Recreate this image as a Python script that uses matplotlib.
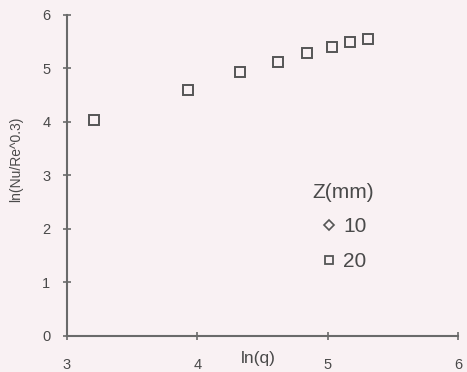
import matplotlib
matplotlib.use("Agg")
import matplotlib.pyplot as plt
from matplotlib.lines import Line2D

# Data
z_labels = ["10", "20"]
x_z10 = []
y_z10 = []
x_z20 = [3.21, 3.93, 4.33, 4.62, 4.84, 5.03, 5.17, 5.31]
y_z20 = [4.04, 4.60, 4.93, 5.12, 5.29, 5.40, 5.50, 5.55]
xticks = [3, 4, 5, 6]
yticks = [0, 1, 2, 3, 4, 5, 6]

plt.rcParams['font.family'] = ['Liberation Sans', 'DejaVu Sans']
bg = '#f9f1f3'
axc = '#6a6a6a'
txc = '#4a4a4a'

fig = plt.figure(figsize=(4.67, 3.72), dpi=100, facecolor=bg)
ax = fig.add_axes([0.1435, 0.097, 0.8375, 0.863])
ax.set_facecolor(bg)

ax.plot(x_z10, y_z10, linestyle='none', marker='D', markersize=5,
        markerfacecolor='none', markeredgecolor='#555555', markeredgewidth=1.2)
ax.plot(x_z20, y_z20, linestyle='none', marker='s', markersize=7,
        markerfacecolor='none', markeredgecolor='#555555', markeredgewidth=1.4)

ax.set_xlim(3, 6)
ax.set_ylim(0, 6)
ax.set_xticks(xticks)
ax.set_yticks(yticks)
for s in ['top', 'right']:
    ax.spines[s].set_visible(False)
for s in ['left', 'bottom']:
    ax.spines[s].set_color(axc)
    ax.spines[s].set_linewidth(1.5)
ax.tick_params(axis='both', direction='inout', length=6, width=1.2, color=axc,
               labelsize=10.5, labelcolor=txc)
ax.tick_params(axis='y', pad=9)
ax.tick_params(axis='x', pad=13)

ax.text(0.488, -0.07, 'ln(q)', transform=ax.transAxes, ha='center', va='center',
        fontsize=12.5, color=txc)
ax.set_ylabel('ln(Nu/Re^0.3)', fontsize=10, color=txc)
ax.yaxis.set_label_coords(-0.112, 0.55)

handles = [
    Line2D([], [], linestyle='none', marker='D', markersize=5, markerfacecolor='none',
           markeredgecolor='#555555', markeredgewidth=1.2),
    Line2D([], [], linestyle='none', marker='s', markersize=6, markerfacecolor='none',
           markeredgecolor='#555555', markeredgewidth=1.3),
]
leg = ax.legend(handles, z_labels, title='Z(mm)', frameon=False, loc='center',
                bbox_to_anchor=(0.705, 0.34), fontsize=15, title_fontsize=15,
                handletextpad=0.15, handlelength=1.0, labelspacing=0.75)
for t in leg.get_texts():
    t.set_color(txc)
leg.get_title().set_color(txc)

fig.savefig('out.png', dpi=100, facecolor=bg)
